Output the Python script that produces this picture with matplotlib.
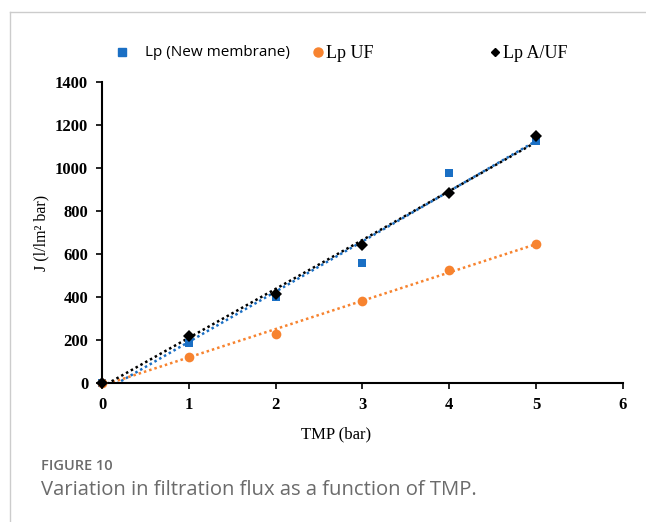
import numpy as np
import matplotlib
matplotlib.use("Agg")
import matplotlib.pyplot as plt
from matplotlib.lines import Line2D

tmp = [0, 1, 2, 3, 4, 5]
lp_new = [0, 185, 400, 560, 978, 1127]
lp_uf = [0, 120, 226, 381, 527, 646]
lp_auf = [0, 220, 415, 640, 885, 1148]

labels = ["Lp (New membrane)", "Lp UF", "Lp A/UF"]
colors = ["#1a6fc4", "#f7832f", "#000000"]
markers = ["s", "o", "D"]

fig = plt.figure(figsize=(6.46, 5.22), dpi=100)
ax = fig.add_axes([0.158, 0.2663, 0.806, 0.5766])

serif = "Liberation Serif"
x = np.array(tmp, dtype=float)
series = [lp_new, lp_uf, lp_auf]
sizes = [5.8, 7, 6]
for ys, c, m, s in zip(series, colors, markers, sizes):
    y = np.array(ys, dtype=float)
    k, b = np.polyfit(x, y, 1)
    xx = np.array([0.0, 5.0])
    ax.plot(xx, k * xx + b, linestyle=(0, (1, 1.2)), color=c, lw=1.8, zorder=2)
for ys, c, m, s in zip(series, colors, markers, sizes):
    ax.plot(x, ys, linestyle="none", marker=m, color=c, markersize=s,
            markeredgewidth=0, zorder=3, clip_on=False)

ax.set_xlim(0, 6)
ax.set_ylim(0, 1400)
ax.set_xticks(range(0, 7))
ax.set_yticks(range(0, 1401, 200))
for sp in ["top", "right"]:
    ax.spines[sp].set_visible(False)
for sp in ["left", "bottom"]:
    ax.spines[sp].set_linewidth(1.5)
ax.tick_params(direction="out", length=4, width=1.2, pad=6)
for lab in ax.get_xticklabels() + ax.get_yticklabels():
    lab.set_fontfamily(serif)
    lab.set_fontweight("bold")
    lab.set_fontsize(12)
ax.set_xlabel("TMP (bar)", fontfamily=serif, fontsize=12)
ax.xaxis.set_label_coords(0.449, -0.145)
ax.set_ylabel("J (l/lm² bar)", fontfamily=serif, fontsize=11.5)
ax.yaxis.set_label_coords(-0.102, 0.5)

# legend (top, custom placed)
ly = 1 - 52 / 522
fig.lines.append(Line2D([122 / 646], [ly], marker="s", color=colors[0],
                        markersize=5.5, linestyle="none", transform=fig.transFigure))
fig.text(145 / 646, ly, labels[0], fontfamily="Open Sans", fontsize=11,
         va="center", ha="left")
fig.lines.append(Line2D([318 / 646], [ly], marker="o", color=colors[1],
                        markersize=6.5, linestyle="none", transform=fig.transFigure))
fig.text(326 / 646, ly - 0.003, labels[1], fontfamily=serif, fontsize=13,
         va="center", ha="left")
fig.lines.append(Line2D([495 / 646], [ly], marker="D", color=colors[2],
                        markersize=4.5, linestyle="none", transform=fig.transFigure))
fig.text(503 / 646, ly - 0.003, labels[2], fontfamily=serif, fontsize=13,
         va="center", ha="left")

# frame lines
fig.lines.append(Line2D([10 / 646, 1], [1 - 12 / 522, 1 - 12 / 522], color="#cccccc",
                        lw=1, transform=fig.transFigure))
fig.lines.append(Line2D([10 / 646, 10 / 646], [0, 1 - 12 / 522], color="#cccccc",
                        lw=1, transform=fig.transFigure))

fig.text(41 / 646, 1 - 466 / 522, "FIGURE 10", fontfamily="Open Sans", fontsize=10.5,
         fontweight="semibold", color="#6b6b6b", va="center", ha="left")
fig.text(41 / 646, 1 - 490 / 522, "Variation in filtration flux as a function of TMP.",
         fontfamily="Open Sans", fontsize=14.6, color="#6b6b6b", va="center", ha="left")

fig.savefig("out.png", dpi=100)
